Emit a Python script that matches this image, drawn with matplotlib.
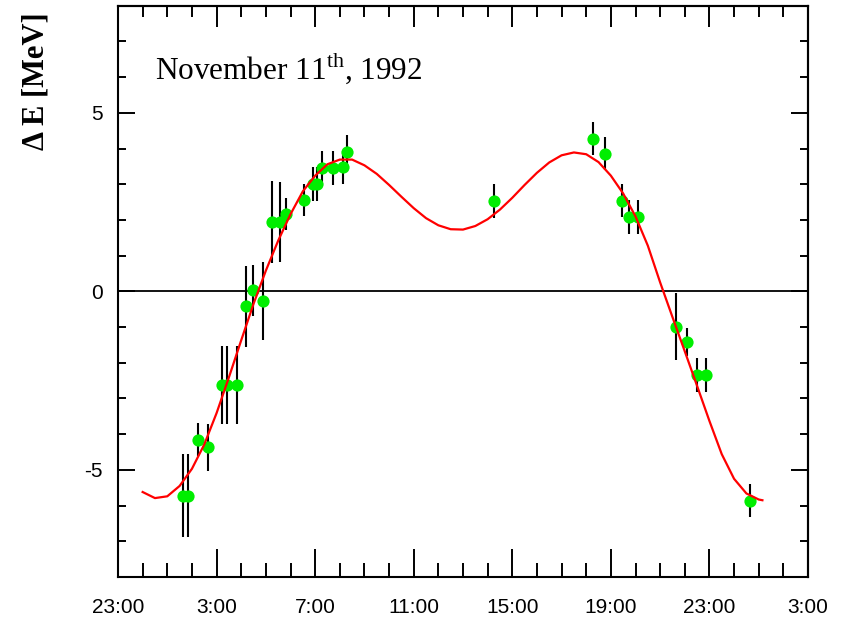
import matplotlib
matplotlib.use("Agg")
import matplotlib.pyplot as plt
from matplotlib.ticker import MultipleLocator, FixedLocator, NullFormatter

plt.rcParams['mathtext.fontset'] = 'custom'
plt.rcParams['mathtext.rm'] = 'Liberation Serif'

# time axis: hours elapsed since 23:00 (10 Nov 1992)
obs_hours = [2.65, 2.85, 3.26, 3.66, 4.21, 4.41, 4.82, 5.19, 5.47, 5.87,
             6.26, 6.57, 6.81, 7.55, 7.93, 8.06, 8.27, 8.71, 9.14, 9.31,
             15.27, 19.27, 19.76, 20.44, 20.74, 21.12, 22.65, 23.08, 23.49,
             23.85, 25.65]
obs_dE = [-5.72, -5.72, -4.15, -4.37, -2.62, -2.62, -2.62, -0.42, 0.03, -0.27,
          1.94, 1.94, 2.17, 2.56, 3.01, 3.01, 3.46, 3.46, 3.47, 3.90,
          2.53, 4.28, 3.86, 2.54, 2.08, 2.09, -0.99, -1.42, -2.34,
          -2.34, -5.86]
obs_err = [1.17, 1.17, 0.45, 0.66, 1.10, 1.10, 1.10, 1.13, 0.72, 1.10,
           1.15, 1.13, 0.45, 0.46, 0.48, 0.48, 0.48, 0.47, 0.47, 0.47,
           0.47, 0.45, 0.45, 0.47, 0.47, 0.47, 0.93, 0.40, 0.47,
           0.47, 0.47]

fit_hours = [1.0, 1.5, 2.0, 2.5, 3.0, 3.5, 4.0, 4.5, 5.0, 5.5,
             6.0, 6.5, 7.0, 7.5, 8.0, 8.5, 9.0, 9.5, 10.0, 10.5,
             11.0, 11.5, 12.0, 12.5, 13.0, 13.5, 14.0, 14.5, 15.0, 15.5,
             16.0, 16.5, 17.0, 17.5, 18.0, 18.5, 19.0, 19.5, 20.0, 20.5,
             21.0, 21.5, 22.0, 22.5, 23.0, 23.5, 24.0, 24.5, 25.0, 25.5,
             26.0, 26.15]
fit_dE = [-5.62, -5.79, -5.74, -5.45, -4.97, -4.29, -3.41, -2.41, -1.37, -0.35,
          0.58, 1.42, 2.16, 2.80, 3.24, 3.56, 3.69, 3.69, 3.53, 3.29,
          2.98, 2.65, 2.33, 2.05, 1.85, 1.74, 1.73, 1.83, 2.02, 2.29,
          2.62, 2.98, 3.32, 3.61, 3.81, 3.89, 3.84, 3.62, 3.24, 2.74,
          2.10, 1.28, 0.25, -0.72, -1.68, -2.65, -3.63, -4.56, -5.25, -5.66,
          -5.83, -5.85]

x_tick_hours = [0, 4, 8, 12, 16, 20, 24, 28]
x_tick_labels = ["23:00", "3:00", "7:00", "11:00", "15:00", "19:00", "23:00", "3:00"]
y_tick_values = [-5, 0, 5]
y_tick_labels = ["-5", "0", "5"]

fig = plt.figure(figsize=(8.46, 6.21), dpi=100)
ax = fig.add_axes([118/846, 1 - 577/621, 690/846, 571.3/621])

ax.axhline(0, color='black', lw=1.3, zorder=1)
ax.errorbar(obs_hours, obs_dE, yerr=obs_err, fmt='none', ecolor='black',
            elinewidth=1.5, capsize=0, zorder=2)
ax.plot(obs_hours, obs_dE, 'o', color='#00ee00', ms=8.8, mec='none', zorder=3)
ax.plot(fit_hours, fit_dE, color='#ff0000', lw=1.6, zorder=4,
        solid_joinstyle='round')

ax.set_xlim(0, 28)
ax.set_ylim(-8, 8)

ax.xaxis.set_major_locator(FixedLocator(x_tick_hours))
ax.set_xticklabels(x_tick_labels)
ax.xaxis.set_minor_locator(MultipleLocator(1))
ax.yaxis.set_major_locator(FixedLocator(y_tick_values))
ax.set_yticklabels(y_tick_labels)
ax.yaxis.set_minor_locator(MultipleLocator(1))

ax.tick_params(axis='x', which='major', direction='in', length=20, width=1.4,
               pad=15, labelsize=15, top=False)
ax.tick_params(axis='x', which='minor', direction='in', length=10, width=1.4, top=False)
ax.tick_params(axis='y', which='major', direction='in', length=12, width=1.4,
               pad=11, labelsize=15, right=False)
ax.tick_params(axis='y', which='minor', direction='in', length=6, width=1.4, right=False)
for lab in ax.get_xticklabels() + ax.get_yticklabels():
    lab.set_fontfamily('Liberation Sans')

secx = ax.secondary_xaxis('top')
secx.xaxis.set_major_locator(FixedLocator(x_tick_hours))
secx.xaxis.set_minor_locator(MultipleLocator(1))
secx.xaxis.set_major_formatter(NullFormatter())
secx.tick_params(axis='x', which='major', direction='in', length=15, width=1.4)
secx.tick_params(axis='x', which='minor', direction='in', length=8, width=1.4)

secy = ax.secondary_yaxis('right')
secy.yaxis.set_major_locator(FixedLocator(y_tick_values))
secy.yaxis.set_minor_locator(MultipleLocator(1))
secy.yaxis.set_major_formatter(NullFormatter())
secy.tick_params(axis='y', which='major', direction='in', length=12, width=1.4)
secy.tick_params(axis='y', which='minor', direction='in', length=6, width=1.4)

for a in (ax, secx, secy):
    for sp in a.spines.values():
        sp.set_linewidth(1.5)

ax.text(0.0536, 0.872, "November 11$^{\\rm th}$, 1992", transform=ax.transAxes,
        ha='left', va='baseline', fontsize=22.5, family='Liberation Serif')

fig.text(36/846, 1 - 81/621, "\u0394 E [MeV]", rotation=90, ha='center', va='center',
         fontsize=22, fontweight='bold', family='Liberation Serif')

fig.savefig("out.png", dpi=100)
